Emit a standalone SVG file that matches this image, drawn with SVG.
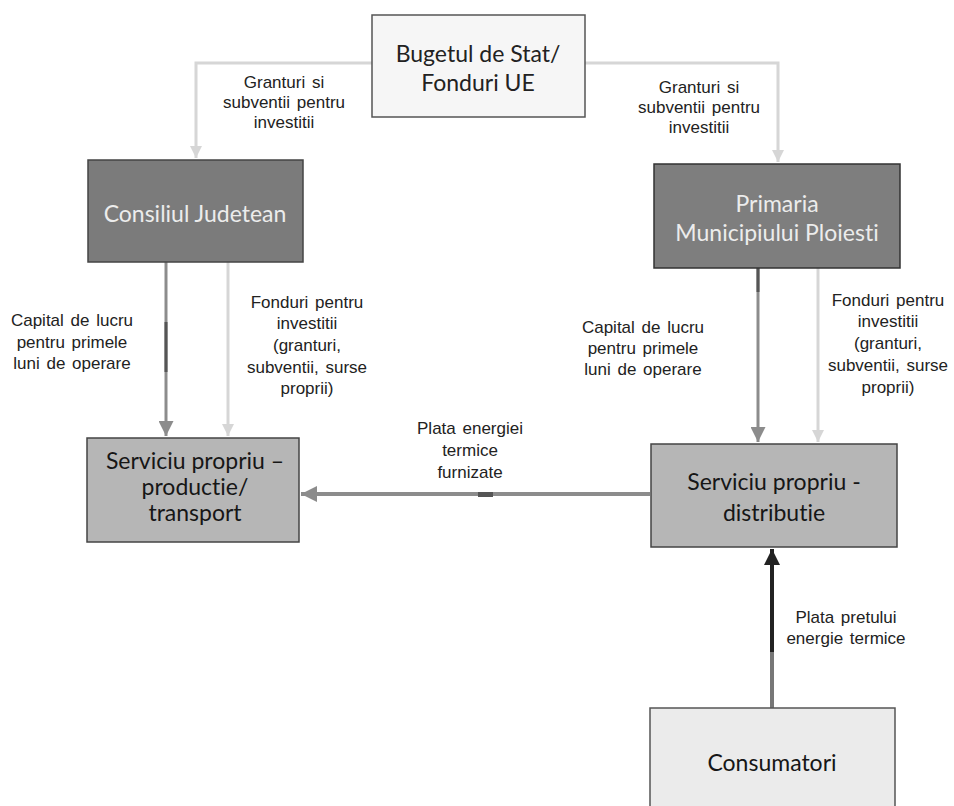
<svg xmlns="http://www.w3.org/2000/svg" width="954" height="806" viewBox="0 0 954 806">
<defs>
<style>
.lbl{font-family:"Liberation Sans",Arial,sans-serif;font-size:17px;fill:#222;text-anchor:middle;word-spacing:2px}
.box{font-family:Lato,"Open Sans",sans-serif;font-size:23px;text-anchor:middle;font-variant-ligatures:none}
.lite{fill:none;stroke:#d6d6d6;stroke-width:3}
.mid{fill:none;stroke:#8c8c8c;stroke-width:3}
</style>
<marker id="aL" viewBox="0 0 10 10" refX="10" refY="5" markerWidth="4" markerHeight="4" orient="auto" markerUnits="strokeWidth"><path d="M0,0L10,5L0,10z" fill="#d6d6d6"/></marker>
<marker id="aM" viewBox="0 0 10 10" refX="10" refY="5" markerWidth="5" markerHeight="5" orient="auto" markerUnits="strokeWidth"><path d="M0,0L10,5L0,10z" fill="#8c8c8c"/></marker>
<marker id="aH" viewBox="0 0 10 10" refX="10" refY="5" markerWidth="4" markerHeight="4.5" orient="auto" markerUnits="strokeWidth"><path d="M0,0L10,5L0,10z" fill="#8c8c8c"/></marker>
<marker id="aD" viewBox="0 0 10 10" refX="10" refY="5" markerWidth="4.2" markerHeight="4" orient="auto" markerUnits="strokeWidth"><path d="M0,0L10,5L0,10z" fill="#222"/></marker>
</defs>
<rect width="954" height="806" fill="#fff"/>

<g id="connectors">
<path class="lite" d="M372,63H196V158" marker-end="url(#aL)"/>
<path class="lite" d="M585,63H778V162" marker-end="url(#aL)"/>
<path class="mid" d="M166,262V436" marker-end="url(#aM)"/>
<path d="M166,322V372" stroke="#555" stroke-width="3"/>
<path class="lite" d="M228,262V436" marker-end="url(#aL)"/>
<path class="mid" d="M758,268V442" marker-end="url(#aM)"/>
<path d="M758,268V292" stroke="#555" stroke-width="3"/>
<path class="lite" d="M818,268V442" marker-end="url(#aL)"/>
<path class="mid" style="stroke-width:4" d="M650,494H301" marker-end="url(#aH)"/>
<rect x="478" y="492" width="15" height="5" fill="#555"/>
<path d="M772,708V652" stroke="#777" stroke-width="4"/>
<path d="M772,652V549" stroke="#222" stroke-width="4" marker-end="url(#aD)"/>
</g>

<g id="labels">
<text class="lbl"><tspan x="284" y="88">Granturi si</tspan><tspan x="284" y="108">subventii pentru</tspan><tspan x="284" y="128">investitii</tspan></text>
<text class="lbl"><tspan x="699" y="93">Granturi si</tspan><tspan x="699" y="113">subventii pentru</tspan><tspan x="699" y="133">investitii</tspan></text>
<text class="lbl"><tspan x="72" y="326">Capital de lucru</tspan><tspan x="72" y="348">pentru primele</tspan><tspan x="72" y="369">luni de operare</tspan></text>
<text class="lbl"><tspan x="307" y="308">Fonduri pentru</tspan><tspan x="307" y="329">investitii</tspan><tspan x="307" y="351">(granturi,</tspan><tspan x="307" y="373">subventii, surse</tspan><tspan x="307" y="394">proprii)</tspan></text>
<text class="lbl"><tspan x="470" y="434">Plata energiei</tspan><tspan x="470" y="456">termice</tspan><tspan x="470" y="478">furnizate</tspan></text>
<text class="lbl"><tspan x="643" y="333">Capital de lucru</tspan><tspan x="643" y="354">pentru primele</tspan><tspan x="643" y="375">luni de operare</tspan></text>
<text class="lbl"><tspan x="888" y="306">Fonduri pentru</tspan><tspan x="888" y="327">investitii</tspan><tspan x="888" y="349">(granturi,</tspan><tspan x="888" y="371">subventii, surse</tspan><tspan x="888" y="393">proprii)</tspan></text>
<text class="lbl"><tspan x="846" y="623">Plata pretului</tspan><tspan x="846" y="644">energie termice</tspan></text>
</g>

<g id="buget">
<rect x="372" y="15" width="213" height="102" fill="#f6f6f6" stroke="#555" stroke-width="1.5"/>
<text class="box" fill="#222"><tspan x="478" y="62">Bugetul de Stat/</tspan><tspan x="478" y="91">Fonduri UE</tspan></text>
</g>

<g id="consiliul">
<rect x="88" y="160" width="215" height="102" fill="#7b7b7b" stroke="#444" stroke-width="1.5"/>
<text class="box" fill="#ececec" x="195" y="222">Consiliul Judetean</text>
</g>

<g id="primaria">
<rect x="654" y="164" width="246" height="104" fill="#7e7e7e" stroke="#333" stroke-width="1.5"/>
<text class="box" fill="#ececec"><tspan x="777" y="212">Primaria</tspan><tspan x="777" y="241">Municipiului  Ploiesti</tspan></text>
</g>

<g id="productie">
<rect x="87" y="438" width="212" height="104" fill="#b6b6b6" stroke="#444" stroke-width="1.5"/>
<text class="box" fill="#161616"><tspan x="195" y="469">Serviciu propriu –</tspan><tspan x="195" y="495">productie/</tspan><tspan x="195" y="521">transport</tspan></text>
</g>

<g id="distributie">
<rect x="651" y="444" width="246" height="103" fill="#b6b6b6" stroke="#444" stroke-width="1.5"/>
<text class="box" fill="#161616"><tspan x="774" y="490">Serviciu propriu -</tspan><tspan x="774" y="521">distributie</tspan></text>
</g>

<g id="consumatori">
<rect x="650" y="708" width="245" height="110" fill="#ebebeb" stroke="#555" stroke-width="1.5"/>
<text class="box" fill="#161616" x="772" y="771">Consumatori</text>
</g>
</svg>
